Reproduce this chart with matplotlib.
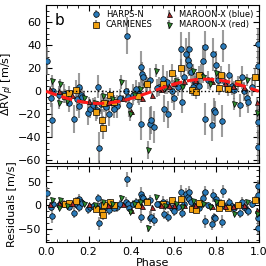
import numpy as np
import matplotlib
matplotlib.use("Agg")
import matplotlib.pyplot as plt
from matplotlib.ticker import AutoMinorLocator

# HARPS-N
harps_ph = [0.005, 0.025, 0.03, 0.035, 0.085, 0.13, 0.145, 0.153, 0.156, 0.165,
            0.196, 0.208, 0.22, 0.24, 0.243, 0.247, 0.28, 0.297, 0.31, 0.333,
            0.35, 0.376, 0.38, 0.385, 0.39, 0.423, 0.437, 0.444, 0.45, 0.458,
            0.444, 0.487, 0.487, 0.493, 0.506, 0.53, 0.548, 0.556, 0.575, 0.59,
            0.60, 0.62, 0.634, 0.638, 0.65, 0.66, 0.665, 0.67, 0.672, 0.68,
            0.70, 0.72, 0.74, 0.747, 0.749, 0.76, 0.783, 0.78, 0.79, 0.795,
            0.80, 0.826, 0.83, 0.84, 0.86, 0.875, 0.91, 0.93, 0.945, 0.95,
            0.97, 0.998, 0.998, 0.998, 0.998, 0.06, 0.11, 0.17, 0.26, 0.32,
            0.41, 0.47, 0.52, 0.57, 0.69, 0.73, 0.81, 0.885, 0.92]
harps_rv = [26, -6, -25, 0, -2, -24, -7, 4, -13, -3,
            -19, -15, -12, -16, 4, -49, -14, -20, -9, -13,
            -6, 0, 48, -5, -12, 2, -2, 21, 15, 12,
            -28, 10, -28, -25, -31, 4, 11, -15, -20, 0,
            -6, 4, 37, -9, 12, 32, 27, 37, 23, 17,
            8, 5, 26, -24, 38, 10, 32, -29, -16, -18,
            23, -26, 39, 8, 14, 5, -12, 0, -6, -9,
            4, 41, 22, -27, -48, -3, -10, -5, -11, -15,
            -3, 6, 3, 8, 4, 14, 10, 1, 12]
harps_err = [12, 8, 15, 6, 8, 12, 10, 12, 10, 6,
             10, 8, 6, 8, 10, 14, 9, 10, 8, 10,
             8, 10, 16, 8, 10, 8, 10, 14, 10, 10,
             14, 10, 14, 12, 14, 8, 12, 12, 12, 10,
             10, 8, 14, 10, 10, 14, 12, 14, 10, 10,
             8, 8, 14, 14, 14, 8, 14, 14, 10, 10,
             12, 14, 14, 8, 10, 8, 10, 8, 8, 10,
             8, 14, 12, 14, 14, 8, 8, 8, 9, 8,
             9, 8, 8, 10, 8, 10, 8, 8, 10]

# CARMENES
carm_ph = [0.09, 0.106, 0.14, 0.235, 0.265, 0.268, 0.273, 0.30, 0.32, 0.474,
           0.59, 0.632, 0.687, 0.706, 0.72, 0.815, 0.82, 0.855, 0.90, 0.98,
           0.55, 0.43]
carm_rv = [-4, -1.5, 1.5, -18, -25, -31.6, -10, -3, -9, 6,
           16, 20, 1.5, -0.6, 14, 3, 14, 2, 7, 12,
           6, -4]
carm_err = [6, 6, 8, 8, 10, 10, 8, 6, 6, 6,
            8, 8, 6, 6, 8, 6, 8, 6, 6, 8,
            6, 6]

# MAROON-X (blue)
mxb_ph = [0.02, 0.06, 0.12, 0.2, 0.29, 0.4, 0.45, 0.5, 0.54, 0.6,
          0.65, 0.7, 0.78, 0.84, 0.88, 0.93, 0.99, 0.36, 0.58]
mxb_rv = [2, 0, -3, -8, -9, -17.5, -6, -3, 2, 7,
          9, 10, 9, 7, 5, 4, -9, -6, 5]
mxb_err = [3, 3, 3, 3, 3, 4, 3, 3, 3, 3,
           3, 3, 3, 3, 3, 3, 3, 3, 3]

# MAROON-X (red)
mxr_ph = [0.03, 0.062, 0.066, 0.10, 0.18, 0.23, 0.31, 0.352, 0.395, 0.415,
          0.479, 0.517, 0.56, 0.61, 0.64, 0.69, 0.74, 0.77, 0.80, 0.883,
          0.945, 0.99, 0.44, 0.27]
mxr_rv = [9, -10, 6, -8, -6, -10, -7, 8, -20, -3,
          -51, 18, 3, 9, 4, 18, 12, 6, 16, -11,
          10, -19, 2, -4]
mxr_err = [5, 5, 5, 5, 5, 5, 5, 6, 6, 5,
           8, 6, 5, 5, 5, 6, 5, 5, 5, 5,
           5, 6, 5, 5]

K = 10.5


def model(ph):
    return -K * np.sin(2 * np.pi * np.asarray(ph))


plt.rcParams['font.size'] = 8
fig = plt.figure(figsize=(2.66, 2.66), dpi=100)
ax1 = fig.add_axes([0.173, 0.388, 0.800, 0.594])
ax2 = fig.add_axes([0.173, 0.090, 0.800, 0.286])

sets = [
    (harps_ph, harps_rv, harps_err, 'o', '#2a7ab8', 'HARPS-N', 4.0),
    (carm_ph, carm_rv, carm_err, 's', '#f0a010', 'CARMENES', 3.8),
    (mxb_ph, mxb_rv, mxb_err, '^', '#b02a2a', 'MAROON-X (blue)', 3.6),
    (mxr_ph, mxr_rv, mxr_err, 'v', '#2e8b2e', 'MAROON-X (red)', 3.6),
]

handles = []
for ph, rv, err, mk, col, lab, ms in sets:
    ph = np.array(ph)
    rv = np.array(rv)
    res = rv - model(ph)
    h = ax1.errorbar(ph, rv, yerr=err, fmt=mk, color=col, mec='k', mew=0.5,
                     ms=ms, ecolor=(0.45, 0.45, 0.45, 0.7), elinewidth=1.5,
                     label=lab, zorder=3)
    ax2.errorbar(ph, res, yerr=err, fmt=mk, color=col, mec='k', mew=0.5,
                 ms=ms, ecolor=(0.45, 0.45, 0.45, 0.7), elinewidth=1.5,
                 zorder=3)
    handles.append(h)

xm = np.linspace(0, 1, 200)
ax1.plot(xm, model(xm), '--', color='#ff1a1a', lw=2.2, zorder=5)
ax1.plot([0, 1], [0, 0], 'k:', lw=1, zorder=4)

ax1.set_xlim(0, 1)
ax2.set_xlim(0, 1)
ax1.set_ylim(-62, 75)
ax2.set_ylim(-79, 84)
ax1.set_yticks([-60, -40, -20, 0, 20, 40, 60])
ax2.set_yticks([-50, 0, 50])
ax1.set_xticks([0, 0.2, 0.4, 0.6, 0.8, 1.0])
ax1.set_xticklabels([])
ax2.set_xticks([0, 0.2, 0.4, 0.6, 0.8, 1.0])

for ax in (ax1, ax2):
    ax.xaxis.set_minor_locator(AutoMinorLocator(4))
    ax.yaxis.set_minor_locator(AutoMinorLocator(4))
    ax.tick_params(which='both', direction='in', top=True, right=True)
    ax.tick_params(which='major', length=4)
    ax.tick_params(which='minor', length=2)

ax1.set_ylabel(r'$\Delta$RV$_{pl}$ [m/s]', labelpad=1)
ax2.set_ylabel('Residuals [m/s]', labelpad=1)
ax2.set_xlabel('Phase', labelpad=1)
ax1.text(0.04, 0.95, 'b', transform=ax1.transAxes, fontsize=11,
         va='top', ha='left')

ax1.legend(handles=handles, ncol=2, fontsize=6, frameon=False,
           loc='upper right', handletextpad=0.2, columnspacing=1.0,
           borderaxespad=0.2, labelspacing=0.2)

fig.savefig('out.png', dpi=100)
